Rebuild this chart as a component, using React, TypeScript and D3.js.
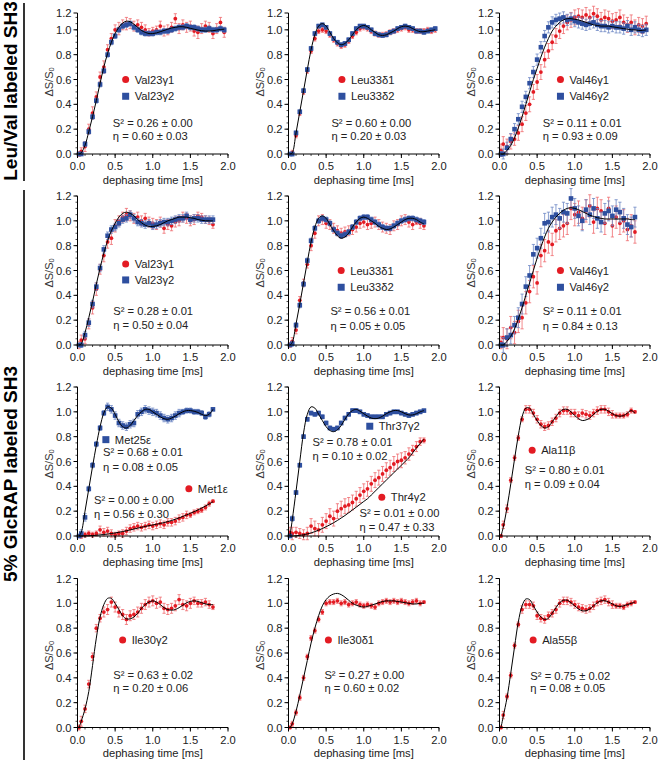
import React from "react";
import * as d3 from "d3";

// ---------- time grids (ms) ----------
const T2 = [0.02,0.05,0.10,0.15,0.20,0.25,0.30,0.35,0.40,0.45,0.50,0.55,0.60,0.65,0.70,0.75,0.80,0.85,0.90,0.95,1.00,1.05,1.10,1.15,1.20,1.25,1.30,1.35,1.40,1.45,1.50,1.55,1.60,1.65,1.70,1.75,1.80,1.85,1.90,1.95];
const T18 = [0.02,0.05,0.10,0.15,0.20,0.25,0.30,0.35,0.40,0.45,0.50,0.55,0.60,0.65,0.70,0.75,0.80,0.85,0.90,0.95,1.00,1.05,1.10,1.15,1.20,1.25,1.30,1.35,1.40,1.45,1.50,1.55,1.60,1.65,1.70,1.75,1.80];

// ---------- Row 1: Leu/Val labeled ----------
const VAL23_FIT_A = [0,0.01,0.07,0.18,0.30,0.43,0.57,0.70,0.81,0.90,0.97,1.02,1.055,1.07,1.065,1.045,1.02,0.995,0.98,0.97,0.97,0.975,0.985,0.995,1.005,1.015,1.02,1.025,1.025,1.02,1.012,1.005,0.998,0.993,0.99,0.99,0.993,0.998,1.002,1.005];
const VAL23G1_A = [0.00,0.02,0.06,0.20,0.33,0.46,0.62,0.70,0.84,0.93,1.00,1.01,1.04,1.05,1.05,1.03,1.04,1.02,1.00,0.98,0.99,1.00,1.03,0.99,1.00,1.02,1.09,1.01,1.04,1.02,1.03,0.99,0.98,1.01,1.03,1.02,0.97,1.01,1.06,0.98];
const VAL23G1_A_ERR = [0.02,0.03,0.04,0.04,0.05,0.04,0.04,0.05,0.04,0.04,0.04,0.05,0.04,0.05,0.04,0.04,0.04,0.04,0.04,0.03,0.03,0.03,0.04,0.04,0.04,0.04,0.04,0.04,0.04,0.04,0.04,0.04,0.05,0.04,0.04,0.04,0.04,0.04,0.04,0.04];
const VAL23G2_A = [0.00,0.00,0.08,0.18,0.30,0.43,0.56,0.67,0.80,0.90,0.95,1.00,1.03,1.04,1.05,1.02,1.00,0.98,0.97,0.97,0.97,0.98,0.98,0.99,0.99,1.00,1.01,1.02,1.02,1.03,1.02,1.02,1.01,1.00,1.00,1.01,1.00,1.00,1.01,1.00];
const VAL23G2_A_ERR = [0.01,0.01,0.02,0.02,0.02,0.02,0.02,0.02,0.02,0.02,0.02,0.02,0.02,0.02,0.02,0.02,0.02,0.02,0.02,0.02,0.02,0.02,0.02,0.02,0.02,0.02,0.02,0.02,0.02,0.02,0.02,0.02,0.02,0.02,0.02,0.02,0.02,0.02,0.02,0.02];

const LEU33_FIT_A = [0,0.01,0.17,0.34,0.51,0.68,0.84,0.96,1.03,1.05,1.03,0.98,0.93,0.895,0.88,0.89,0.92,0.96,1.00,1.025,1.035,1.025,1.00,0.98,0.96,0.955,0.96,0.975,0.99,1.01,1.025,1.03,1.025,1.01,0.995,0.985,0.985,0.99,0.995,1.00];
const LEU33D1_A = [0.00,0.01,0.15,0.33,0.50,0.67,0.83,0.93,0.99,1.00,0.99,0.96,0.92,0.89,0.87,0.88,0.91,0.95,0.98,1.01,1.02,1.01,0.99,0.97,0.96,0.96,0.965,0.98,0.99,1.00,1.01,1.02,1.00,1.00,0.99,0.99,0.99,1.00,0.99,1.00];
const LEU33D1_A_ERR = [0.01,0.02,0.02,0.02,0.02,0.02,0.02,0.02,0.02,0.02,0.02,0.02,0.02,0.02,0.02,0.02,0.02,0.02,0.02,0.02,0.02,0.02,0.02,0.02,0.02,0.02,0.02,0.02,0.02,0.02,0.02,0.02,0.02,0.02,0.02,0.02,0.02,0.02,0.02,0.02];
const LEU33D2_A = [0.00,0.00,0.17,0.34,0.51,0.68,0.85,0.97,1.03,1.04,1.02,0.97,0.93,0.90,0.88,0.89,0.92,0.97,1.01,1.03,1.03,1.02,1.00,0.97,0.96,0.955,0.96,0.98,0.99,1.01,1.02,1.03,1.02,1.01,0.99,0.99,0.98,0.99,1.00,1.01];
const LEU33D2_A_ERR = [0.01,0.015,0.015,0.015,0.015,0.015,0.015,0.015,0.015,0.015,0.015,0.015,0.015,0.015,0.015,0.015,0.015,0.015,0.015,0.015,0.015,0.015,0.015,0.015,0.015,0.015,0.015,0.015,0.015,0.015,0.015,0.015,0.015,0.015,0.015,0.015,0.015,0.015,0.015,0.015];

const VAL46_FIT_A = [0,0.00,0.03,0.07,0.13,0.21,0.30,0.40,0.50,0.60,0.69,0.78,0.86,0.93,0.99,1.03,1.06,1.08,1.09,1.09,1.085,1.08,1.07,1.06,1.05,1.04,1.035,1.03,1.03,1.03,1.025,1.02,1.015,1.01,1.005,1.00,1.00,0.995,0.995,1.00];
const VAL46G1_A = [0.03,0.08,0.06,0.10,0.12,0.17,0.24,0.33,0.40,0.50,0.58,0.66,0.76,0.83,0.90,0.95,0.99,1.03,1.06,1.08,1.10,1.11,1.10,1.12,1.10,1.13,1.11,1.08,1.10,1.09,1.07,1.08,1.10,1.06,1.04,1.06,1.02,1.04,1.03,1.05];
const VAL46G1_A_ERR = [0.05,0.06,0.06,0.06,0.05,0.06,0.06,0.06,0.06,0.06,0.06,0.06,0.06,0.06,0.06,0.06,0.06,0.06,0.06,0.06,0.06,0.06,0.06,0.06,0.06,0.06,0.06,0.06,0.06,0.06,0.06,0.06,0.06,0.06,0.06,0.06,0.06,0.06,0.06,0.06];
const VAL46G2_A = [0.00,0.00,0.05,0.12,0.20,0.28,0.38,0.46,0.57,0.66,0.76,0.86,0.95,1.02,1.06,1.08,1.09,1.10,1.08,1.09,1.07,1.06,1.05,1.04,1.05,1.06,1.04,1.03,1.03,1.02,1.03,1.02,1.02,1.01,1.03,1.00,1.02,1.00,0.99,1.00];
const VAL46G2_A_ERR = [0.02,0.04,0.045,0.045,0.045,0.045,0.045,0.045,0.045,0.045,0.045,0.045,0.045,0.045,0.045,0.045,0.045,0.045,0.045,0.045,0.045,0.045,0.045,0.045,0.045,0.045,0.045,0.045,0.045,0.045,0.045,0.045,0.045,0.045,0.045,0.045,0.045,0.045,0.045,0.045];

// ---------- Row 2: 5% GlcRAP ----------
const VAL23_FIT_B = [0,0.01,0.10,0.22,0.35,0.49,0.62,0.74,0.84,0.92,0.98,1.03,1.06,1.07,1.06,1.04,1.01,0.985,0.965,0.955,0.955,0.96,0.97,0.985,1.00,1.01,1.02,1.03,1.03,1.03,1.025,1.02,1.01,1.005,1.00,1.00,1.00];
const VAL23G1_B = [0.00,0.04,0.05,0.17,0.30,0.45,0.61,0.72,0.83,0.86,0.96,1.00,1.03,1.05,1.04,1.02,1.03,1.00,1.02,0.99,0.98,0.97,0.99,0.94,0.97,0.96,0.99,1.00,1.03,1.02,1.00,1.01,1.04,1.03,1.01,1.00,0.97];
const VAL23G1_B_ERR = [0.03,0.04,0.04,0.04,0.05,0.05,0.04,0.05,0.05,0.05,0.05,0.04,0.04,0.05,0.04,0.04,0.04,0.04,0.04,0.04,0.04,0.04,0.04,0.04,0.04,0.04,0.04,0.04,0.04,0.04,0.04,0.04,0.03,0.03,0.03,0.03,0.03];
const VAL23G2_B = [0.00,0.00,0.08,0.18,0.33,0.47,0.62,0.77,0.88,0.93,0.95,0.98,1.01,1.02,1.05,1.02,0.99,0.98,0.97,0.98,0.96,0.97,0.98,0.99,0.99,1.00,1.01,1.02,1.02,1.04,1.01,1.02,1.02,1.01,1.01,1.01,1.01];
const VAL23G2_B_ERR = [0.01,0.02,0.03,0.03,0.03,0.03,0.03,0.03,0.03,0.03,0.03,0.03,0.03,0.03,0.03,0.03,0.03,0.03,0.03,0.03,0.03,0.03,0.03,0.03,0.03,0.03,0.03,0.03,0.03,0.03,0.03,0.03,0.03,0.03,0.03,0.03,0.03];

const LEU33_FIT_B = [0,0.02,0.17,0.33,0.50,0.67,0.83,0.95,1.02,1.04,1.02,0.97,0.92,0.88,0.86,0.87,0.90,0.95,0.99,1.02,1.03,1.02,1.00,0.98,0.955,0.94,0.93,0.935,0.95,0.97,0.99,1.01,1.02,1.02,1.01,0.99,0.975];
const LEU33D1_B = [0.00,0.03,0.12,0.36,0.50,0.65,0.80,0.90,1.00,1.01,0.98,0.97,0.94,0.92,0.90,0.91,0.92,0.93,0.95,0.98,0.99,0.97,0.98,0.99,0.97,0.95,0.94,0.93,0.96,0.97,1.00,1.01,0.99,0.97,0.99,0.98,0.96];
const LEU33D1_B_ERR = [0.02,0.03,0.03,0.03,0.03,0.03,0.04,0.04,0.04,0.04,0.04,0.04,0.04,0.04,0.04,0.04,0.04,0.04,0.04,0.04,0.04,0.04,0.04,0.04,0.04,0.04,0.04,0.04,0.04,0.04,0.04,0.04,0.04,0.04,0.02,0.04,0.03];
const LEU33D2_B = [0.00,0.01,0.16,0.32,0.49,0.68,0.84,0.94,1.00,1.02,1.01,0.98,0.93,0.90,0.88,0.89,0.91,0.95,0.99,1.02,1.03,1.03,1.01,0.99,0.97,0.95,0.94,0.94,0.96,0.98,1.00,1.01,1.02,1.02,1.01,1.00,0.99];
const LEU33D2_B_ERR = [0.01,0.02,0.02,0.02,0.02,0.02,0.02,0.02,0.02,0.02,0.02,0.02,0.02,0.02,0.02,0.02,0.02,0.02,0.02,0.02,0.02,0.02,0.02,0.02,0.02,0.02,0.02,0.02,0.02,0.02,0.02,0.02,0.02,0.02,0.02,0.02,0.02];

const VAL46_FIT_B = [0,0.00,0.03,0.07,0.13,0.21,0.30,0.40,0.50,0.60,0.70,0.79,0.87,0.94,0.99,1.03,1.06,1.085,1.10,1.105,1.10,1.09,1.075,1.06,1.045,1.035,1.025,1.02,1.015,1.015,1.015,1.015,1.015,1.015,1.015,1.01,1.01];
const VAL46G1_B = [0.02,0.06,0.05,0.14,0.10,0.19,0.22,0.34,0.43,0.55,0.50,0.72,0.76,0.83,0.81,0.92,0.94,0.96,0.98,1.10,1.05,1.07,1.02,1.08,1.12,0.99,1.10,1.08,0.98,1.10,0.96,1.03,0.98,1.00,0.93,0.96,0.91];
const VAL46G1_B_ERR = [0.05,0.08,0.08,0.09,0.09,0.09,0.09,0.09,0.09,0.09,0.09,0.09,0.09,0.09,0.09,0.09,0.09,0.09,0.09,0.09,0.09,0.09,0.09,0.09,0.09,0.09,0.09,0.09,0.09,0.09,0.09,0.09,0.09,0.09,0.09,0.09,0.09];
const VAL46G2_B = [0.00,0.00,0.06,0.08,0.16,0.22,0.33,0.47,0.56,0.73,0.78,0.86,0.98,0.99,1.03,1.05,1.02,1.07,1.06,1.18,1.10,1.04,1.00,1.09,1.05,1.10,1.02,0.99,1.06,1.08,1.04,1.09,1.07,1.02,0.97,0.95,1.03];
const VAL46G2_B_ERR = [0.02,0.06,0.07,0.07,0.07,0.08,0.08,0.08,0.08,0.08,0.08,0.08,0.08,0.08,0.08,0.08,0.08,0.08,0.08,0.08,0.08,0.08,0.08,0.08,0.08,0.08,0.08,0.08,0.08,0.08,0.08,0.08,0.08,0.08,0.08,0.08,0.08];

// ---------- Row 3 ----------
const MET25_FIT = [0,0.03,0.20,0.38,0.56,0.73,0.88,0.99,1.04,1.03,0.98,0.92,0.88,0.87,0.89,0.93,0.97,1.00,1.02,1.02,1.00,0.98,0.96,0.945,0.94,0.95,0.965,0.985,1.00,1.01,1.01,1.005,0.995,0.98,0.97,0.98,1.02];
const MET25E = [0.00,0.02,0.15,0.38,0.57,0.74,0.87,0.99,1.04,1.02,0.97,0.91,0.89,0.88,0.90,0.91,0.98,1.00,1.02,1.01,1.00,0.99,0.97,0.95,0.94,0.95,0.97,0.99,1.00,1.01,1.01,1.00,1.00,0.99,0.96,0.98,1.02];
const MET25E_ERR = [0.01,0.03,0.03,0.02,0.02,0.02,0.02,0.02,0.03,0.03,0.03,0.03,0.03,0.03,0.03,0.03,0.03,0.03,0.03,0.03,0.03,0.03,0.03,0.03,0.03,0.03,0.03,0.03,0.02,0.02,0.02,0.02,0.02,0.02,0.02,0.02,0.01];
const MET1_FIT = [0,0.000,0.001,0.002,0.004,0.006,0.009,0.012,0.016,0.020,0.025,0.030,0.036,0.042,0.049,0.056,0.063,0.070,0.077,0.083,0.089,0.095,0.101,0.108,0.116,0.125,0.135,0.146,0.158,0.170,0.183,0.196,0.210,0.225,0.241,0.258,0.276];
const MET1E = [0.00,0.00,0.01,0.02,0.01,0.02,0.05,0.03,0.04,0.02,0.01,0.02,0.02,0.04,0.06,0.07,0.08,0.07,0.08,0.09,0.08,0.09,0.10,0.09,0.11,0.11,0.12,0.14,0.15,0.17,0.17,0.19,0.20,0.21,0.23,0.26,0.28];
const MET1E_ERR = [0.01,0.02,0.02,0.02,0.02,0.02,0.03,0.03,0.03,0.03,0.02,0.02,0.03,0.03,0.03,0.03,0.03,0.03,0.03,0.03,0.03,0.03,0.03,0.03,0.03,0.03,0.03,0.03,0.03,0.03,0.02,0.02,0.02,0.02,0.02,0.02,0.01];

const THR37_FIT = [0,0.13,0.36,0.60,0.83,0.98,1.04,1.03,0.98,0.93,0.88,0.85,0.84,0.855,0.89,0.94,0.985,1.01,1.02,1.005,0.985,0.965,0.95,0.945,0.95,0.965,0.985,1.00,1.01,1.01,1.00,0.985,0.975,0.975,0.985,1.00,1.01];
const THR37G2 = [0.00,0.14,0.35,0.57,0.80,0.94,0.99,0.98,0.99,0.96,0.91,0.87,0.86,0.87,0.91,0.95,0.98,1.01,1.01,1.00,0.98,0.97,0.96,0.96,0.96,0.96,0.98,0.99,1.00,1.00,0.99,0.98,0.97,0.98,0.99,1.00,1.01];
const THR37G2_ERR = [0.01,0.02,0.015,0.015,0.015,0.015,0.015,0.015,0.015,0.015,0.015,0.015,0.015,0.015,0.015,0.015,0.015,0.015,0.015,0.015,0.015,0.015,0.015,0.015,0.015,0.015,0.015,0.015,0.015,0.015,0.015,0.015,0.015,0.015,0.015,0.015,0.01];
const THR4_FIT = [0,0.000,0.002,0.005,0.010,0.017,0.025,0.035,0.047,0.060,0.075,0.090,0.107,0.125,0.145,0.165,0.187,0.210,0.232,0.255,0.278,0.30,0.33,0.36,0.39,0.42,0.45,0.48,0.51,0.54,0.57,0.60,0.63,0.67,0.71,0.745,0.78];
const THR4G2 = [0.03,0.02,0.03,0.02,0.01,0.02,0.08,0.06,0.05,0.09,0.12,0.16,0.14,0.20,0.22,0.24,0.25,0.27,0.30,0.33,0.36,0.38,0.42,0.45,0.47,0.50,0.53,0.55,0.58,0.60,0.61,0.63,0.66,0.69,0.72,0.76,0.77];
const THR4G2_ERR = [0.04,0.05,0.04,0.04,0.04,0.05,0.06,0.06,0.05,0.06,0.06,0.06,0.06,0.06,0.06,0.06,0.06,0.06,0.06,0.06,0.06,0.06,0.06,0.06,0.06,0.06,0.06,0.06,0.06,0.06,0.06,0.05,0.05,0.04,0.04,0.03,0.02];

const ALA11_FIT = [0,0.07,0.23,0.42,0.62,0.81,0.96,1.03,1.03,0.98,0.93,0.89,0.87,0.88,0.92,0.96,1.00,1.02,1.02,1.00,0.97,0.945,0.93,0.935,0.95,0.98,1.005,1.02,1.02,1.005,0.985,0.97,0.965,0.97,0.99,1.01,0.99];
const ALA11B = [0.00,0.09,0.22,0.45,0.63,0.79,0.94,1.02,1.02,0.99,0.94,0.90,0.88,0.89,0.92,0.95,0.99,1.01,1.01,0.99,0.99,0.97,0.99,0.98,0.97,0.99,1.01,1.02,1.02,1.00,0.98,0.97,0.97,0.97,0.98,1.01,1.00];
const ALA11B_ERR = [0.01,0.03,0.03,0.02,0.02,0.02,0.02,0.03,0.03,0.03,0.03,0.03,0.03,0.03,0.03,0.03,0.03,0.03,0.03,0.03,0.03,0.03,0.03,0.03,0.03,0.03,0.03,0.03,0.03,0.03,0.03,0.02,0.02,0.02,0.02,0.02,0.01];

// ---------- Row 4 ----------
const ILE30G2_FIT = [0,0.05,0.15,0.29,0.50,0.72,0.89,0.99,1.04,1.04,1.00,0.95,0.90,0.875,0.875,0.89,0.92,0.96,0.99,1.01,1.02,1.01,0.99,0.965,0.95,0.945,0.95,0.965,0.985,1.005,1.015,1.02,1.015,1.005,0.995,0.99,0.99];
const ILE30G2 = [0.00,0.05,0.15,0.35,0.57,0.80,0.88,0.93,0.95,1.01,0.97,0.93,0.91,0.87,0.90,0.91,0.93,0.96,0.99,1.01,1.02,1.00,1.01,0.96,0.95,0.96,0.98,1.03,0.99,0.98,1.00,1.02,1.00,1.00,1.01,0.99,0.97];
const ILE30G2_ERR = [0.02,0.04,0.03,0.03,0.03,0.03,0.03,0.04,0.04,0.04,0.04,0.04,0.04,0.04,0.04,0.04,0.04,0.04,0.04,0.04,0.04,0.04,0.04,0.04,0.04,0.04,0.04,0.04,0.04,0.04,0.04,0.03,0.03,0.03,0.03,0.03,0.02];

const ILE30D1_FIT = [0,0.03,0.13,0.26,0.40,0.54,0.68,0.80,0.90,0.98,1.03,1.06,1.075,1.08,1.07,1.05,1.025,1.00,0.985,0.975,0.97,0.975,0.985,0.995,1.005,1.015,1.02,1.02,1.02,1.015,1.01,1.005,1.00,0.995,0.995,1.00,1.00];
const ILE30D1 = [0.00,0.03,0.12,0.24,0.40,0.57,0.72,0.78,0.87,0.93,1.00,1.01,1.01,1.02,1.00,1.01,0.99,1.00,1.01,0.99,0.98,0.99,0.98,0.97,1.00,1.01,1.02,1.01,1.02,1.01,1.02,1.01,1.00,1.01,1.02,1.00,1.01];
const ILE30D1_ERR = [0.01,0.02,0.02,0.02,0.02,0.02,0.02,0.02,0.02,0.02,0.02,0.02,0.02,0.02,0.02,0.02,0.02,0.02,0.02,0.02,0.02,0.02,0.02,0.02,0.02,0.02,0.02,0.02,0.02,0.02,0.02,0.02,0.02,0.02,0.02,0.02,0.01];

const ALA55_FIT = [0,0.09,0.24,0.44,0.65,0.85,0.98,1.035,1.03,0.98,0.93,0.89,0.87,0.88,0.92,0.965,1.005,1.025,1.025,1.005,0.98,0.955,0.94,0.94,0.955,0.98,1.005,1.02,1.02,1.01,0.995,0.98,0.975,0.98,0.99,1.00,1.01];
const ALA55B = [0.00,0.10,0.25,0.42,0.66,0.83,0.95,0.99,0.99,0.98,0.90,0.88,0.87,0.90,0.92,0.95,1.00,1.02,1.02,1.01,0.99,0.97,0.96,0.95,0.96,0.98,1.01,1.02,1.03,1.01,0.99,0.98,0.98,0.97,0.99,1.00,1.01];
const ALA55B_ERR = [0.01,0.03,0.02,0.02,0.02,0.02,0.03,0.03,0.03,0.03,0.03,0.03,0.03,0.03,0.03,0.03,0.03,0.03,0.03,0.03,0.03,0.03,0.03,0.03,0.03,0.03,0.03,0.03,0.03,0.03,0.03,0.02,0.02,0.02,0.02,0.02,0.01];

// ---------- tick labels ----------
const X_TICKS = [0, 0.5, 1.0, 1.5, 2.0];
const Y_TICKS = [0, 0.2, 0.4, 0.6, 0.8, 1.0, 1.2];

// ---------- panel definitions ----------
type Series = { kind: "red" | "blue"; v: number[]; e: number[] };
type PanelDef = { t: number[]; series: Series[]; fits: number[][] };

const PANELS: PanelDef[][] = [
  [
    { t: T2, series: [{ kind: "red", v: VAL23G1_A, e: VAL23G1_A_ERR }, { kind: "blue", v: VAL23G2_A, e: VAL23G2_A_ERR }], fits: [VAL23_FIT_A] },
    { t: T2, series: [{ kind: "red", v: LEU33D1_A, e: LEU33D1_A_ERR }, { kind: "blue", v: LEU33D2_A, e: LEU33D2_A_ERR }], fits: [LEU33_FIT_A] },
    { t: T2, series: [{ kind: "red", v: VAL46G1_A, e: VAL46G1_A_ERR }, { kind: "blue", v: VAL46G2_A, e: VAL46G2_A_ERR }], fits: [VAL46_FIT_A] },
  ],
  [
    { t: T18, series: [{ kind: "red", v: VAL23G1_B, e: VAL23G1_B_ERR }, { kind: "blue", v: VAL23G2_B, e: VAL23G2_B_ERR }], fits: [VAL23_FIT_B] },
    { t: T18, series: [{ kind: "red", v: LEU33D1_B, e: LEU33D1_B_ERR }, { kind: "blue", v: LEU33D2_B, e: LEU33D2_B_ERR }], fits: [LEU33_FIT_B] },
    { t: T18, series: [{ kind: "red", v: VAL46G1_B, e: VAL46G1_B_ERR }, { kind: "blue", v: VAL46G2_B, e: VAL46G2_B_ERR }], fits: [VAL46_FIT_B] },
  ],
  [
    { t: T18, series: [{ kind: "red", v: MET1E, e: MET1E_ERR }, { kind: "blue", v: MET25E, e: MET25E_ERR }], fits: [MET25_FIT, MET1_FIT] },
    { t: T18, series: [{ kind: "red", v: THR4G2, e: THR4G2_ERR }, { kind: "blue", v: THR37G2, e: THR37G2_ERR }], fits: [THR37_FIT, THR4_FIT] },
    { t: T18, series: [{ kind: "red", v: ALA11B, e: ALA11B_ERR }], fits: [ALA11_FIT] },
  ],
  [
    { t: T18, series: [{ kind: "red", v: ILE30G2, e: ILE30G2_ERR }], fits: [ILE30G2_FIT] },
    { t: T18, series: [{ kind: "red", v: ILE30D1, e: ILE30D1_ERR }], fits: [ILE30D1_FIT] },
    { t: T18, series: [{ kind: "red", v: ALA55B, e: ALA55B_ERR }], fits: [ALA55_FIT] },
  ],
];

// ---------- annotation layout (data units) ----------
type Leg = { kind: "red" | "blue"; t: number; v: number; label: string };
type Stat = { t: number; v1: number; v2: number; s: string; eta: string };
type Ann = { legends: Leg[]; stats: Stat[] };

const ANN: Ann[][] = [
  [
    { legends: [{ kind: "red", t: 0.64, v: 0.60, label: "Val23γ1" }, { kind: "blue", t: 0.64, v: 0.465, label: "Val23γ2" }], stats: [{ t: 0.47, v1: 0.25, v2: 0.145, s: "0.26 ± 0.00", eta: "0.60 ± 0.03" }] },
    { legends: [{ kind: "red", t: 0.71, v: 0.60, label: "Leu33δ1" }, { kind: "blue", t: 0.71, v: 0.465, label: "Leu33δ2" }], stats: [{ t: 0.57, v1: 0.25, v2: 0.145, s: "0.60 ± 0.00", eta: "0.20 ± 0.03" }] },
    { legends: [{ kind: "red", t: 0.81, v: 0.60, label: "Val46γ1" }, { kind: "blue", t: 0.81, v: 0.465, label: "Val46γ2" }], stats: [{ t: 0.575, v1: 0.25, v2: 0.145, s: "0.11 ± 0.01", eta: "0.93 ± 0.09" }] },
  ],
  [
    { legends: [{ kind: "red", t: 0.64, v: 0.653, label: "Val23γ1" }, { kind: "blue", t: 0.64, v: 0.524, label: "Val23γ2" }], stats: [{ t: 0.475, v1: 0.27, v2: 0.16, s: "0.28 ± 0.01", eta: "0.50 ± 0.04" }] },
    { legends: [{ kind: "red", t: 0.70, v: 0.60, label: "Leu33δ1" }, { kind: "blue", t: 0.70, v: 0.465, label: "Leu33δ2" }], stats: [{ t: 0.557, v1: 0.27, v2: 0.155, s: "0.56 ± 0.01", eta: "0.05 ± 0.05" }] },
    { legends: [{ kind: "red", t: 0.81, v: 0.60, label: "Val46γ1" }, { kind: "blue", t: 0.81, v: 0.465, label: "Val46γ2" }], stats: [{ t: 0.575, v1: 0.27, v2: 0.155, s: "0.11 ± 0.01", eta: "0.84 ± 0.13" }] },
  ],
  [
    { legends: [{ kind: "blue", t: 0.377, v: 0.776, label: "Met25ε" }, { kind: "red", t: 1.48, v: 0.38, label: "Met1ε" }], stats: [{ t: 0.34, v1: 0.674, v2: 0.555, s: "0.68 ± 0.01", eta: "0.08 ± 0.05" }, { t: 0.22, v1: 0.29, v2: 0.175, s: "0.00 ± 0.00", eta: "0.56 ± 0.30" }] },
    { legends: [{ kind: "blue", t: 1.08, v: 0.884, label: "Thr37γ2" }, { kind: "red", t: 1.24, v: 0.313, label: "Thr4γ2" }], stats: [{ t: 0.32, v1: 0.76, v2: 0.647, s: "0.78 ± 0.01", eta: "0.10 ± 0.02" }, { t: 0.944, v1: 0.183, v2: 0.075, s: "0.01 ± 0.00", eta: "0.47 ± 0.33" }] },
    { legends: [{ kind: "red", t: 0.434, v: 0.69, label: "Ala11β" }], stats: [{ t: 0.336, v1: 0.534, v2: 0.42, s: "0.80 ± 0.01", eta: "0.09 ± 0.04" }] },
  ],
  [
    { legends: [{ kind: "red", t: 0.60, v: 0.705, label: "Ile30γ2" }], stats: [{ t: 0.475, v1: 0.424, v2: 0.316, s: "0.63 ± 0.02", eta: "0.20 ± 0.06" }] },
    { legends: [{ kind: "red", t: 0.53, v: 0.705, label: "Ile30δ1" }], stats: [{ t: 0.477, v1: 0.424, v2: 0.316, s: "0.27 ± 0.00", eta: "0.60 ± 0.02" }] },
    { legends: [{ kind: "red", t: 0.447, v: 0.705, label: "Ala55β" }], stats: [{ t: 0.41, v1: 0.416, v2: 0.318, s: "0.75 ± 0.02", eta: "0.08 ± 0.05" }] },
  ],
];

// ---------- layout / style ----------
const W = 658, H = 760;
const COL_X = [77.5, 288.5, 499.5];
const ROW_ZERO = [154, 345, 536, 727.5];
const PW = 150.5;
const PH = 149; // pixel height of 0..1.2
const FONT = "'Liberation Sans', Arial, Helvetica, sans-serif";
const COL = {
  red: "#e31b23",
  redErr: "#ef6b6e",
  blue: "#2e4f9f",
  blueErr: "#6c86c4",
  text: "#222",
};

function PanelView({ def, ann, row, col }: { def: PanelDef; ann: Ann; row: number; col: number }) {
  const x0 = COL_X[col];
  const y0 = ROW_ZERO[row];
  const xs = d3.scaleLinear().domain([0, 2]).range([x0, x0 + PW]);
  const ys = d3.scaleLinear().domain([0, 1.2]).range([y0, y0 - PH]);
  const topPx = row === 0 ? 13 : ys(1.2);
  const topVal = ys.invert(topPx);

  const line = d3
    .line<number>()
    .x((_, i) => xs(def.t[i]))
    .y((d) => ys(d))
    .curve(d3.curveCatmullRom.alpha(0.5));

  const minorY = d3.range(0, topVal + 1e-6, 0.05);
  const minorX = d3.range(0, 2.0001, 0.1);

  return (
    <g>
      {def.series.map((s, si) => {
        const err = s.kind === "red" ? COL.redErr : COL.blueErr;
        const fill = s.kind === "red" ? COL.red : COL.blue;
        return (
          <g key={si}>
            {s.v.map((v, i) => {
              const x = xs(def.t[i]);
              const ya = ys(v - s.e[i]);
              const yb = ys(v + s.e[i]);
              return (
                <g key={i} stroke={err} strokeWidth={0.8}>
                  <line x1={x} x2={x} y1={ya} y2={yb} />
                  <line x1={x - 1.6} x2={x + 1.6} y1={ya} y2={ya} />
                  <line x1={x - 1.6} x2={x + 1.6} y1={yb} y2={yb} />
                </g>
              );
            })}
            {s.v.map((v, i) =>
              s.kind === "red" ? (
                <circle key={"m" + i} cx={xs(def.t[i])} cy={ys(v)} r={1.9} fill={fill} />
              ) : (
                <rect key={"m" + i} x={xs(def.t[i]) - 2.3} y={ys(v) - 2.3} width={4.6} height={4.6} fill={fill} />
              )
            )}
          </g>
        );
      })}
      {def.fits.map((f, fi) => (
        <path key={fi} d={line(f) || ""} fill="none" stroke="#000" strokeWidth={1} />
      ))}

      <line x1={x0} x2={x0} y1={y0} y2={topPx} stroke="#000" strokeWidth={1} />
      {minorY.map((v, i) => (
        <line key={"my" + i} x1={x0 - 2} x2={x0} y1={ys(v)} y2={ys(v)} stroke="#000" strokeWidth={0.7} />
      ))}
      {Y_TICKS.map((v, i) => {
        const yy = v > topVal + 1e-6 ? topPx : ys(v);
        return (
          <g key={"ty" + i}>
            <line x1={x0 - 4} x2={x0} y1={yy} y2={yy} stroke="#000" strokeWidth={1} />
            <text x={x0 - 6} y={yy} textAnchor="end" dominantBaseline="central" fontSize={11.2} fill={COL.text} fontFamily={FONT}>
              {v.toFixed(1)}
            </text>
          </g>
        );
      })}
      <line x1={x0} x2={xs(2)} y1={y0} y2={y0} stroke="#000" strokeWidth={1} />
      {minorX.map((t, i) => (
        <line key={"mx" + i} x1={xs(t)} x2={xs(t)} y1={y0} y2={y0 + 2} stroke="#000" strokeWidth={0.7} />
      ))}
      {X_TICKS.map((t, i) => (
        <g key={"tx" + i}>
          <line x1={xs(t)} x2={xs(t)} y1={y0} y2={y0 + 4} stroke="#000" strokeWidth={1} />
          <text x={xs(t)} y={y0 + 16} textAnchor="middle" fontSize={11.2} fill={COL.text} fontFamily={FONT}>
            {t.toFixed(1)}
          </text>
        </g>
      ))}
      <text x={xs(1)} y={y0 + 29.5} textAnchor="middle" fontSize={11.2} fill={COL.text} fontFamily={FONT}>
        dephasing time [ms]
      </text>
      <text
        transform={`translate(${x0 - 29},${ys(0.58)}) rotate(-90)`}
        textAnchor="middle"
        dominantBaseline="central"
        fontSize={11}
        fill="#333"
        fontFamily={FONT}
      >
        ΔS/S<tspan fontSize={7.5} dy={2.8}>0</tspan>
      </text>

      {ann.legends.map((l, i) => {
        const cx = xs(l.t);
        const cy = ys(l.v);
        return (
          <g key={"lg" + i}>
            {l.kind === "red" ? (
              <circle cx={cx} cy={cy} r={3.5} fill={COL.red} />
            ) : (
              <rect x={cx - 3.5} y={cy - 3.5} width={7} height={7} fill={COL.blue} />
            )}
            <text x={cx + 9} y={cy} dominantBaseline="central" fontSize={11.2} fill={COL.text} fontFamily={FONT}>
              {l.label}
            </text>
          </g>
        );
      })}
      {ann.stats.map((s, i) => (
        <g key={"st" + i} fontSize={11.2} fill={COL.text} fontFamily={FONT}>
          <text x={xs(s.t)} y={ys(s.v1)} dominantBaseline="central">
            {"S² = " + s.s}
          </text>
          <text x={xs(s.t)} y={ys(s.v2)} dominantBaseline="central">
            {"η = " + s.eta}
          </text>
        </g>
      ))}
    </g>
  );
}

export default function App() {
  return (
    <svg
      width={W}
      height={H}
      viewBox={`0 0 ${W} ${H}`}
      style={{ position: "absolute", left: 0, top: 0, background: "#fff" }}
    >
      <rect x={0} y={0} width={W} height={H} fill="#fff" />
      <text
        transform="translate(10,91) rotate(-90)"
        textAnchor="middle"
        dominantBaseline="central"
        fontSize={19}
        fontWeight="bold"
        fill="#000"
        fontFamily={FONT}
      >
        Leu/Val labeled SH3
      </text>
      <line x1={24} x2={24} y1={3} y2={181} stroke="#000" strokeWidth={1.6} />
      <text
        transform="translate(10,474) rotate(-90)"
        textAnchor="middle"
        dominantBaseline="central"
        fontSize={19}
        fontWeight="bold"
        fill="#000"
        fontFamily={FONT}
      >
        5% GlcRAP labeled SH3
      </text>
      <line x1={24} x2={24} y1={190} y2={760} stroke="#000" strokeWidth={1.6} />
      {PANELS.map((rowDefs, r) =>
        rowDefs.map((def, c) => <PanelView key={r + "-" + c} def={def} ann={ANN[r][c]} row={r} col={c} />)
      )}
    </svg>
  );
}
